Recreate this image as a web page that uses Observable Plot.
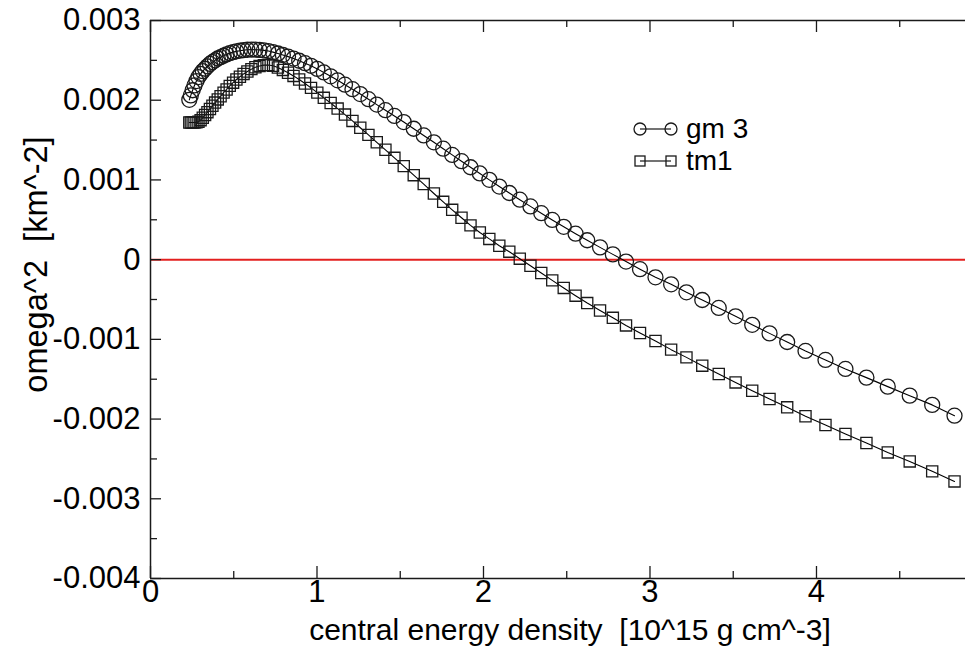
<!DOCTYPE html>
<html><head><meta charset="utf-8">
<script src="https://cdn.jsdelivr.net/npm/d3@7"></script>
<script src="https://cdn.jsdelivr.net/npm/@observablehq/plot@0.6"></script>
<style>
body{margin:0;background:#fff;}
#wrap{position:relative;width:965px;height:648px;}
#wrap svg.legend{position:absolute;left:0;top:0;pointer-events:none;}
#wrap svg text{white-space:pre;}
</style></head><body><div id="wrap"></div>
<script>
// central energy density [10^15 g cm^-3] (shared by both series)
const density = [0.233, 0.242, 0.253, 0.264, 0.276, 0.288, 0.301, 0.314, 0.328, 0.342,
  0.357, 0.372, 0.388, 0.404, 0.421, 0.439, 0.457, 0.476, 0.496, 0.516,
  0.537, 0.559, 0.582, 0.606, 0.630, 0.655, 0.681, 0.708, 0.736, 0.765,
  0.795, 0.826, 0.859, 0.893, 0.928, 0.964, 1.002, 1.041, 1.082, 1.124,
  1.168, 1.213, 1.260, 1.309, 1.359, 1.411, 1.465, 1.521, 1.581, 1.641,
  1.702, 1.758, 1.812, 1.868, 1.922, 1.978, 2.035, 2.095, 2.155, 2.218,
  2.282, 2.347, 2.413, 2.482, 2.553, 2.623, 2.700, 2.777, 2.856, 2.940,
  3.033, 3.127, 3.219, 3.314, 3.413, 3.514, 3.614, 3.718, 3.824, 3.934,
  4.054, 4.174, 4.300, 4.428, 4.560, 4.695, 4.829];
// omega^2 [km^-2], series "gm 3" (circles)
const gm3 = [2.005e-3, 2.06e-3, 2.125e-3, 2.185e-3, 2.24e-3, 2.29e-3, 2.33e-3, 2.365e-3, 2.395e-3, 2.425e-3,
  2.455e-3, 2.478e-3, 2.50e-3, 2.523e-3, 2.54e-3, 2.558e-3, 2.575e-3, 2.59e-3, 2.603e-3, 2.613e-3,
  2.621e-3, 2.628e-3, 2.633e-3, 2.635e-3, 2.634e-3, 2.631e-3, 2.625e-3, 2.617e-3, 2.603e-3, 2.586e-3,
  2.567e-3, 2.547e-3, 2.522e-3, 2.495e-3, 2.465e-3, 2.432e-3, 2.393e-3, 2.348e-3, 2.30e-3, 2.25e-3,
  2.195e-3, 2.138e-3, 2.077e-3, 2.013e-3, 1.945e-3, 1.875e-3, 1.803e-3, 1.726e-3, 1.642e-3, 1.558e-3,
  1.472e-3, 1.392e-3, 1.314e-3, 1.235e-3, 1.159e-3, 1.081e-3, 1.001e-3, 0.917e-3, 0.836e-3, 0.752e-3,
  0.668e-3, 0.583e-3, 0.498e-3, 0.412e-3, 0.326e-3, 0.243e-3, 0.154e-3, 0.066e-3, -0.024e-3, -0.12e-3,
  -0.222e-3, -0.31e-3, -0.41e-3, -0.506e-3, -0.606e-3, -0.711e-3, -0.818e-3, -0.925e-3, -1.033e-3, -1.145e-3,
  -1.258e-3, -1.371e-3, -1.480e-3, -1.593e-3, -1.706e-3, -1.822e-3, -1.957e-3];
// omega^2 [km^-2], series "tm1" (squares)
const tm1 = [1.72e-3, 1.72e-3, 1.72e-3, 1.72e-3, 1.722e-3, 1.73e-3, 1.75e-3, 1.78e-3, 1.815e-3, 1.85e-3,
  1.89e-3, 1.93e-3, 1.97e-3, 2.01e-3, 2.05e-3, 2.095e-3, 2.135e-3, 2.18e-3, 2.22e-3, 2.26e-3,
  2.295e-3, 2.33e-3, 2.36e-3, 2.39e-3, 2.413e-3, 2.43e-3, 2.44e-3, 2.442e-3, 2.432e-3, 2.41e-3,
  2.38e-3, 2.345e-3, 2.305e-3, 2.26e-3, 2.21e-3, 2.155e-3, 2.095e-3, 2.03e-3, 1.965e-3, 1.895e-3,
  1.82e-3, 1.74e-3, 1.655e-3, 1.565e-3, 1.472e-3, 1.378e-3, 1.277e-3, 1.173e-3, 1.06e-3, 0.948e-3,
  0.83e-3, 0.725e-3, 0.625e-3, 0.525e-3, 0.43e-3, 0.34e-3, 0.26e-3, 0.175e-3, 0.10e-3, 0.012e-3,
  -0.077e-3, -0.168e-3, -0.26e-3, -0.355e-3, -0.452e-3, -0.545e-3, -0.638e-3, -0.73e-3, -0.825e-3, -0.92e-3,
  -1.02e-3, -1.129e-3, -1.226e-3, -1.33e-3, -1.434e-3, -1.54e-3, -1.644e-3, -1.748e-3, -1.853e-3, -1.965e-3,
  -2.075e-3, -2.187e-3, -2.30e-3, -2.418e-3, -2.531e-3, -2.656e-3, -2.782e-3];

const xMajor = [0, 1, 2, 3, 4];
const xMinor = [0.5, 1.5, 2.5, 3.5, 4.5];
const xTickLabels = ["0", "1", "2", "3", "4"];
const yMajor = [0.003, 0.002, 0.001, 0, -0.001, -0.002, -0.003, -0.004];
const yMinor = [0.0025, 0.0015, 0.0005, -0.0005, -0.0015, -0.0025, -0.0035];
const yTickLabels = ["0.003", "0.002", "0.001", "0", "-0.001", "-0.002", "-0.003", "-0.004"];
const seriesNames = ["gm 3", "tm1"];
const xTitle = "central energy density  [10^15 g cm^-3]";
const yTitle = "omega^2  [km^-2]";

const W = 965, H = 648, mL = 150, mR = 0, mT = 20, mB = 70;
const innerH = H - mT - mB, innerW = W - mL - mR;
const font = '"Liberation Sans", Arial, Helvetica, sans-serif';
const ink = "#1a1a1a";
const rowsGm = density.map((x, i) => ({x, y: gm3[i]}));
const rowsTm = density.map((x, i) => ({x, y: tm1[i]}));

const chart = Plot.plot({
  width: W, height: H,
  marginLeft: mL, marginRight: mR, marginTop: mT, marginBottom: mB,
  style: {fontFamily: font, background: "#fff", color: "#000", overflow: "visible"},
  x: {domain: [0, 4.895]},
  y: {domain: [-0.004, 0.003]},
  marks: [
    Plot.ruleY([0], {stroke: "#e3201f", strokeWidth: 2}),
    Plot.line(rowsGm, {x: "x", y: "y", stroke: "#000", strokeWidth: 1.1}),
    Plot.dot(rowsGm, {x: "x", y: "y", r: 7.5, symbol: "circle", stroke: ink, strokeWidth: 1.3, fill: "none"}),
    Plot.line(rowsTm, {x: "x", y: "y", stroke: "#000", strokeWidth: 1.1}),
    Plot.dot(rowsTm, {x: "x", y: "y", r: 6.3, symbol: "square", stroke: ink, strokeWidth: 1.3, fill: "none"}),
    Plot.ruleX([0], {stroke: ink, strokeWidth: 1.5}),
    Plot.ruleY([-0.004], {stroke: ink, strokeWidth: 1.5}),
    Plot.ruleY([0.003], {stroke: ink, strokeWidth: 1.5}),
    Plot.tickX(xMajor, {x: d => d, insetTop: innerH - 12, stroke: ink, strokeWidth: 1.3}),
    Plot.tickX(xMinor, {x: d => d, insetTop: innerH - 7, stroke: ink, strokeWidth: 1.3}),
    Plot.tickX(xMajor, {x: d => d, insetBottom: innerH - 12, stroke: ink, strokeWidth: 1.3}),
    Plot.tickX(xMinor, {x: d => d, insetBottom: innerH - 7, stroke: ink, strokeWidth: 1.3}),
    Plot.tickY(yMajor, {y: d => d, insetRight: innerW - 11, stroke: ink, strokeWidth: 1.3}),
    Plot.tickY(yMinor, {y: d => d, insetRight: innerW - 7, stroke: ink, strokeWidth: 1.3}),
    Plot.axisX(xMajor, {tickSize: 0, tickPadding: 1, fontSize: 31, label: null,
      tickFormat: d => xTickLabels[xMajor.indexOf(d)]}),
    Plot.axisY(yMajor, {tickSize: 0, tickPadding: 10, fontSize: 31, label: null,
      tickFormat: d => yTickLabels[yMajor.indexOf(d)]}),
    Plot.text([xTitle], {text: d => d, frameAnchor: "bottom", textAnchor: "middle", dx: 12, dy: 61, fontSize: 30}),
    Plot.text([yTitle], {text: d => d, frameAnchor: "left", textAnchor: "middle", dx: -114, dy: -35, rotate: -90, fontSize: 32.5})
  ]
});
const wrap = document.getElementById("wrap");
wrap.appendChild(chart);

// legend overlay
const lg = d3.create("svg").attr("class", "legend").attr("width", W).attr("height", H)
  .style("font-family", font);
const entries = [{name: seriesNames[0], sym: "circle", cy: 129}, {name: seriesNames[1], sym: "square", cy: 161}];
for (const e of entries) {
  lg.append("line").attr("x1", 640).attr("x2", 671).attr("y1", e.cy).attr("y2", e.cy)
    .attr("stroke", "#000").attr("stroke-width", 1.1);
  for (const cx of [640, 671]) {
    if (e.sym === "circle") {
      lg.append("circle").attr("cx", cx).attr("cy", e.cy).attr("r", 6)
        .attr("fill", "none").attr("stroke", ink).attr("stroke-width", 1.3);
    } else {
      lg.append("rect").attr("x", cx - 5).attr("y", e.cy - 5).attr("width", 10).attr("height", 10)
        .attr("fill", "none").attr("stroke", ink).attr("stroke-width", 1.3);
    }
  }
  lg.append("text").attr("x", 686).attr("y", e.cy + 9).attr("font-size", 28).attr("fill", "#000").text(e.name);
}
wrap.appendChild(lg.node());
</script></body></html>
